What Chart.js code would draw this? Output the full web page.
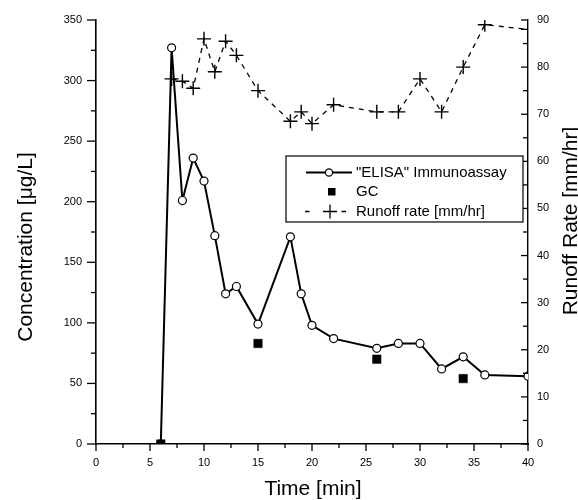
<!DOCTYPE html>
<html>
<head>
<meta charset="utf-8">
<script src="https://cdn.jsdelivr.net/npm/chart.js@4.4.1/dist/chart.umd.min.js"></script>
<style>
  html, body { margin: 0; padding: 0; background: #fff; }
  canvas { display: block; }
</style>
</head>
<body>
<canvas id="runoffChart" width="578" height="500"></canvas>
<script>
// ELISA immunoassay (left axis, µg/L)
const elisaTime = [6, 7, 8, 9, 10, 11, 12, 13, 15, 18, 19, 20, 22, 26, 28, 30, 32, 34, 36, 40];
const elisaConc = [0, 327, 201, 236, 217, 172, 124, 130, 99, 171, 124, 98, 87, 79, 83, 83, 62, 72, 57, 56];

// GC (left axis, µg/L)
const gcTime = [6, 15, 26, 34];
const gcConc = [0, 83, 70, 54];

// runoff rate (right axis, mm/hr)
const runoffTime = [7, 8, 9, 10, 11, 12, 13, 15, 18, 19, 20, 22, 26, 28, 30, 32, 34, 36, 40];
const runoffRate = [77.5, 77, 75.5, 86, 79, 85.5, 82.5, 75, 68.5, 70.5, 68, 72, 70.5, 70.5, 77.5, 70.5, 80, 89, 88];

// axis ranges
const xRange = [0, 40, 5];      // min, max, major step
const concRange = [0, 350, 50];
const rateRange = [0, 90, 10];

const FONT = "'Liberation Sans', Arial, sans-serif";

const toPoints = (xs, ys) => xs.map((x, i) => ({ x: x, y: ys[i] }));

// ticks: major + minor, drawn by hand because Chart.js has no minor ticks
function drawTicks(ctx, scale, range, majorLen, minorLen, side) {
    const [min, max, step] = range;
    for (let v = min; v <= max + 1e-9; v += step / 2) {
        const major = Math.abs((v - min) / step - Math.round((v - min) / step)) < 1e-6;
        const len = major ? majorLen : minorLen;
        const p = scale.getPixelForValue(v);
        ctx.beginPath();
        if (side === "bottom") {
            ctx.moveTo(p, scale.top); ctx.lineTo(p, scale.top + len);
        } else if (side === "left") {
            ctx.moveTo(scale.right, p); ctx.lineTo(scale.right - len, p);
        } else { // right axis, ticks point inward
            ctx.moveTo(scale.left, p); ctx.lineTo(scale.left - len, p);
        }
        ctx.stroke();
    }
}

const decorPlugin = {
    id: "decor",
    afterDatasetsDraw(chart) {
        const { ctx, scales } = chart;
        ctx.save();
        ctx.strokeStyle = "#000";
        ctx.lineWidth = 1.3;
        drawTicks(ctx, scales.x, xRange, 7, 4, "bottom");
        drawTicks(ctx, scales.y, concRange, 9, 5, "left");
        drawTicks(ctx, scales.y2, rateRange, 7, 5, "right");

        // axis titles
        ctx.fillStyle = "#000";
        ctx.font = "21px " + FONT;
        ctx.textAlign = "center";
        ctx.textBaseline = "alphabetic";
        ctx.fillText("Time [min]", 313, 495);
        ctx.save();
        ctx.translate(32, 247);
        ctx.rotate(-Math.PI / 2);
        ctx.fillText("Concentration [\u03BCg/L]", 0, 0);
        ctx.restore();
        ctx.save();
        ctx.translate(577, 221);
        ctx.rotate(-Math.PI / 2);
        ctx.fillText("Runoff Rate [mm/hr]", 0, 0);
        ctx.restore();

        // legend box
        const ds = chart.data.datasets;
        ctx.fillStyle = "#fff";
        ctx.fillRect(286, 156, 237, 66);
        ctx.lineWidth = 1.2;
        ctx.strokeRect(286, 156, 237, 66);

        ctx.font = "15px " + FONT;
        ctx.textAlign = "left";
        ctx.textBaseline = "middle";

        // row 1: line with open circle
        ctx.lineWidth = 2;
        ctx.beginPath(); ctx.moveTo(306, 172.5); ctx.lineTo(352, 172.5); ctx.stroke();
        ctx.beginPath(); ctx.arc(329, 172.5, 3.6, 0, Math.PI * 2);
        ctx.fillStyle = "#fff"; ctx.fill();
        ctx.lineWidth = 1.2; ctx.stroke();
        ctx.fillStyle = "#000";
        ctx.fillText(ds[0].label, 356, 173);

        // row 2: filled square
        ctx.fillRect(328, 188, 7.5, 7.5);
        ctx.fillText(ds[1].label, 356, 192);

        // row 3: dashes and cross
        ctx.lineWidth = 1.3;
        ctx.beginPath();
        ctx.moveTo(305, 211.5); ctx.lineTo(309.5, 211.5);
        ctx.moveTo(341.5, 211.5); ctx.lineTo(346, 211.5);
        ctx.moveTo(323, 211.5); ctx.lineTo(337, 211.5);
        ctx.moveTo(330, 204.5); ctx.lineTo(330, 218.5);
        ctx.stroke();
        ctx.fillText(ds[2].label, 356, 211.5);
        ctx.restore();
    }
};

new Chart(document.getElementById("runoffChart").getContext("2d"), {
    type: "scatter",
    data: {
        datasets: [
            {
                label: "\"ELISA\" Immunoassay",
                data: toPoints(elisaTime, elisaConc),
                showLine: true,
                borderColor: "#000",
                borderWidth: 2,
                backgroundColor: "#fff",
                pointBackgroundColor: "#fff",
                pointBorderColor: "#000",
                pointBorderWidth: 1.2,
                pointRadius: 4,
                yAxisID: "y",
                order: 2
            },
            {
                label: "GC",
                data: toPoints(gcTime, gcConc),
                showLine: false,
                pointStyle: "rect",
                pointRadius: 6,
                pointBorderWidth: 0.5,
                pointBackgroundColor: "#000",
                pointBorderColor: "#000",
                yAxisID: "y",
                order: 1
            },
            {
                label: "Runoff rate [mm/hr]",
                data: toPoints(runoffTime, runoffRate),
                showLine: true,
                borderColor: "#000",
                borderWidth: 1.3,
                borderDash: [5, 5],
                pointStyle: "cross",
                pointRadius: 7,
                pointBorderWidth: 1.4,
                pointBorderColor: "#000",
                yAxisID: "y2",
                order: 3
            }
        ]
    },
    options: {
        responsive: false,
        animation: false,
        devicePixelRatio: 1,
        layout: { padding: { top: 20, left: 0, right: 0, bottom: 0 } },
        plugins: {
            legend: { display: false },
            tooltip: { enabled: false }
        },
        scales: {
            x: {
                type: "linear",
                position: "bottom",
                min: xRange[0],
                max: xRange[1],
                grid: { display: false, drawTicks: true, tickLength: 7 },
                border: { display: true, color: "#000", width: 1.6 },
                ticks: {
                    stepSize: xRange[2],
                    padding: 5,
                    color: "#000",
                    font: { family: FONT, size: 11 },
                    maxRotation: 0
                },
                afterFit: s => { s.height = 56; }
            },
            y: {
                type: "linear",
                position: "left",
                min: concRange[0],
                max: concRange[1],
                grid: { display: false, drawTicks: true, tickLength: 9 },
                border: { display: true, color: "#000", width: 1.6 },
                ticks: {
                    stepSize: concRange[2],
                    padding: 5,
                    color: "#000",
                    font: { family: FONT, size: 11 }
                },
                afterFit: s => { s.width = 96; }
            },
            y2: {
                type: "linear",
                position: "right",
                min: rateRange[0],
                max: rateRange[1],
                grid: { display: false, drawTicks: true, tickLength: 3 },
                border: { display: true, color: "#000", width: 1.4 },
                ticks: {
                    stepSize: rateRange[2],
                    padding: 6,
                    color: "#000",
                    font: { family: FONT, size: 11 }
                },
                afterFit: s => { s.width = 50; }
            }
        }
    },
    plugins: [decorPlugin]
});
</script>
</body>
</html>
